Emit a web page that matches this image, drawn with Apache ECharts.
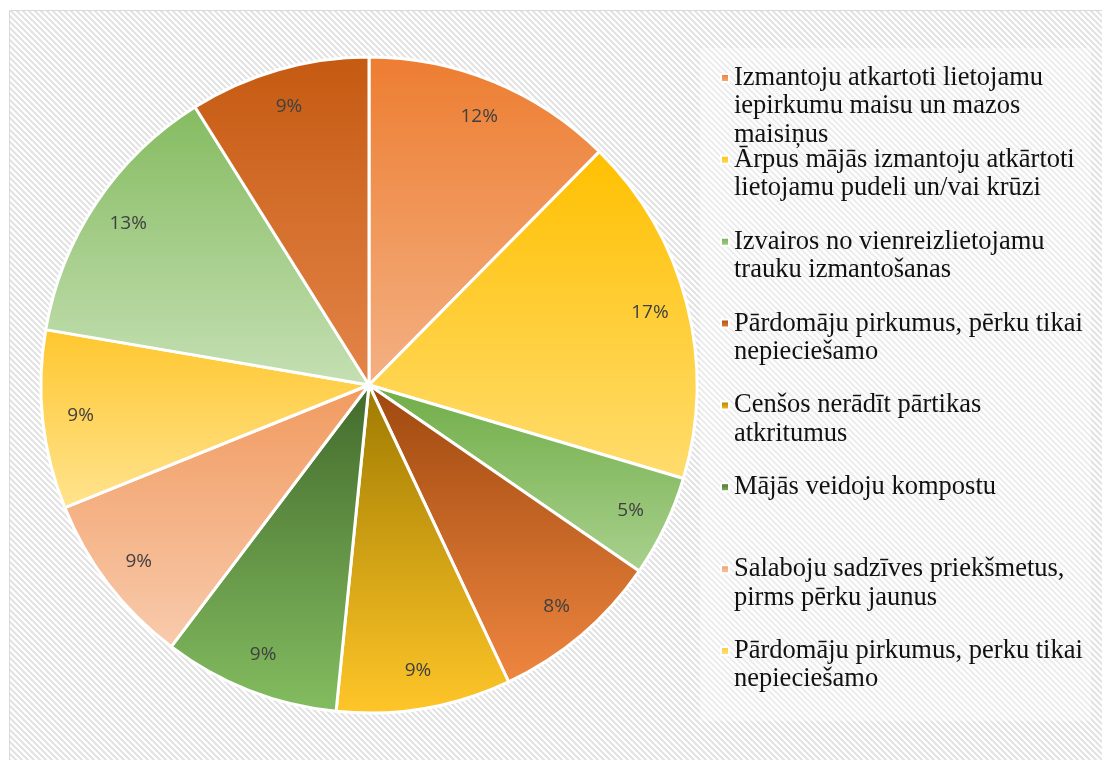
<!DOCTYPE html>
<html>
<head>
<meta charset="utf-8">
<title>Pie</title>
<script src="https://cdn.jsdelivr.net/npm/echarts@6/dist/echarts.min.js"></script>
<style>
    html, body { margin: 0; padding: 0; background: #fff; }
    #main { width: 1102px; height: 760px; }
</style>
</head>
<body>
<div id="main"></div>
<script>
    // kategorijas (pēdējās divas leģendā neparādās)
    var categories = [
        'Izmantoju atkartoti lietojamu iepirkumu maisu un mazos maisiņus',
        'Ārpus mājās izmantoju atkārtoti lietojamu pudeli un/vai krūzi',
        'Izvairos no vienreizlietojamu trauku izmantošanas',
        'Pārdomāju pirkumus, pērku tikai nepieciešamo',
        'Cenšos nerādīt pārtikas atkritumus',
        'Mājās veidoju kompostu',
        'Salaboju sadzīves priekšmetus, pirms pērku jaunus',
        'Pārdomāju pirkumus, perku tikai nepieciešamo',
        'Kategorija 9',
        'Kategorija 10'
    ];
    // daļas procentos
    var values = [12.4, 17.2, 5.0, 8.4, 8.6, 8.7, 8.6, 8.8, 13.4, 8.9];
    // leģendas teksts ar rindu pārnesumiem
    var legendLines = [
        ['Izmantoju atkartoti lietojamu', 'iepirkumu maisu un mazos', 'maisiņus'],
        ['Ārpus mājās izmantoju atkārtoti', 'lietojamu pudeli un/vai krūzi'],
        ['Izvairos no vienreizlietojamu', 'trauku izmantošanas'],
        ['Pārdomāju pirkumus, pērku tikai', 'nepieciešamo'],
        ['Cenšos nerādīt pārtikas', 'atkritumus'],
        ['Mājās veidoju kompostu'],
        ['Salaboju sadzīves priekšmetus,', 'pirms pērku jaunus'],
        ['Pārdomāju pirkumus, perku tikai', 'nepieciešamo']
    ];
    // krāsas: augša -> apakša (gradients)
    var colors = [
        ['#ED7D31', '#F4B183'],
        ['#FFC000', '#FFDC6E'],
        ['#70AD47', '#A9D18E'],
        ['#9E480E', '#EF8640'],
        ['#9E7A00', '#FFC629'],
        ['#426A2C', '#84BD60'],
        ['#F19A5F', '#F8CBAD'],
        ['#FFC72E', '#FFE38F'],
        ['#85BB60', '#C5E0B4'],
        ['#C55A11', '#E4854A']
    ];

    var cx = 369, cy = 385, R = 328;
    var lineH = 28.5;

    // svītrotais fons
    var hatch = document.createElement('canvas');
    hatch.width = 6; hatch.height = 6;
    var ctx = hatch.getContext('2d');
    ctx.fillStyle = '#ffffff';
    ctx.fillRect(0, 0, 6, 6);
    ctx.strokeStyle = '#e2e2e2';
    ctx.lineWidth = 2;
    [-6, 0, 6].forEach(function (o) {
        ctx.beginPath();
        ctx.moveTo(o - 1, -1);
        ctx.lineTo(o + 7, 7);
        ctx.stroke();
    });

    var pieData = categories.map(function (name, i) {
        return {
            name: name,
            value: values[i],
            itemStyle: {
                color: {
                    type: 'linear', x: 0, y: 0, x2: 0, y2: 1,
                    colorStops: [
                        {offset: 0, color: colors[i][0]},
                        {offset: 1, color: colors[i][1]}
                    ]
                }
            }
        };
    });

    // katram leģendas ierakstam savs bloks; tukšas rindas augšā,
    // lai ikona (centrēta pret tekstu) stāvētu pie pirmās rindas
    var legends = legendLines.map(function (lines, i) {
        var n = lines.length;
        var yc = 78 + 81.86 * i;
        var pad = [];
        for (var k = 0; k < n - 1; k++) pad.push(' ');
        var text = pad.concat(lines).join('\n');
        return {
            data: [categories[i]],
            orient: 'vertical',
            left: 720,
            top: yc - lineH * (n - 1) - lineH / 2,
            padding: 0,
            itemWidth: 8,
            itemHeight: 8,
            icon: 'rect',
            selectedMode: false,
            formatter: function () { return text; },
            textStyle: {
                fontFamily: 'Liberation Serif',
                fontSize: 26.5,
                lineHeight: lineH,
                color: '#111'
            }
        };
    });

    var option = {
        backgroundColor: '#fff',
        animation: false,
        graphic: [
            {
                type: 'rect', z: -10,
                shape: {x: 9.5, y: 10.5, width: 1100, height: 760},
                style: {fill: {image: hatch, repeat: 'repeat'}, stroke: '#d9d9d9', lineWidth: 1}
            },
            {
                type: 'rect', z: -9,
                shape: {x: 700, y: 48, width: 391, height: 673},
                style: {fill: 'rgba(255,255,255,0.35)'}
            }
        ],
        legend: legends,
        series: [
            {
                type: 'pie',
                center: [cx, cy],
                radius: [0, R],
                startAngle: 90,
                clockwise: true,
                silent: true,
                label: {show: false},
                labelLine: {show: false},
                itemStyle: {borderColor: '#fff', borderWidth: 3},
                data: pieData
            },
            {
                // caurspīdīgs gredzens tikai procentu etiķetēm
                type: 'pie',
                center: [cx, cy],
                radius: [246, R],
                startAngle: 90,
                clockwise: true,
                silent: true,
                itemStyle: {color: 'transparent', borderWidth: 0},
                label: {
                    show: true,
                    position: 'inside',
                    fontFamily: 'Open Sans',
                    fontSize: 19,
                    color: '#404040',
                    formatter: function (p) { return Math.round(p.percent) + '%'; }
                },
                labelLine: {show: false},
                data: categories.map(function (name, i) { return {name: name, value: values[i]}; })
            }
        ]
    };

    var chart = echarts.init(document.getElementById('main'));
    chart.setOption(option);
</script>
</body>
</html>
